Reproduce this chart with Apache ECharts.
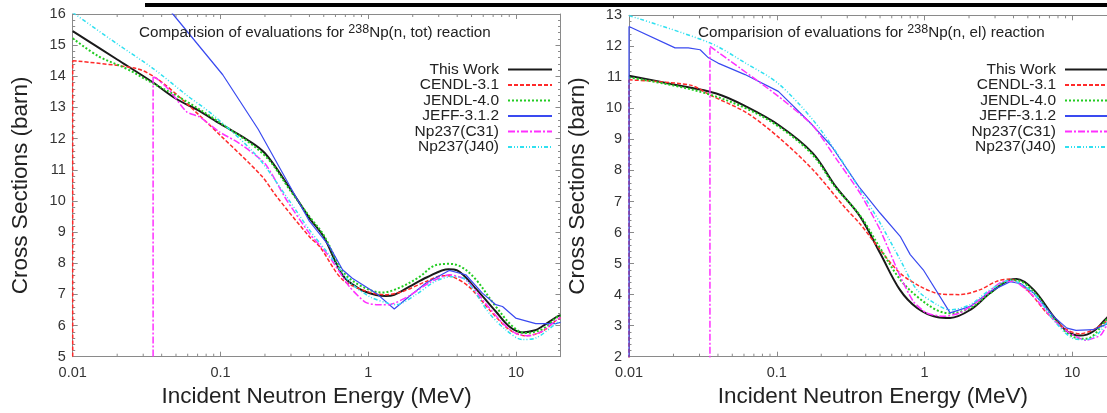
<!DOCTYPE html>
<html>
<head>
<meta charset="utf-8">
<title>238Np evaluations</title>
<script src="https://cdn.jsdelivr.net/npm/echarts@6/dist/echarts.min.js"></script>
<style>
html,body{margin:0;padding:0;background:#fff;}
#chart{width:1107px;height:413px;}
</style>
</head>
<body>
<div id="chart"></div>
<script>
// 数据：能量 (MeV) / 截面 (barn)
const seriesNames = ['This Work', 'CENDL-3.1', 'JENDL-4.0', 'JEFF-3.1.2', 'Np237(C31)', 'Np237(J40)'];

const xRange = [0.01, 20];
const xTickValues = [0.01, 0.1, 1, 10];
const xTickLabels = ['0.01', '0.1', '1', '10'];
const logMinorTicks = [0.02,0.03,0.04,0.05,0.06,0.07,0.08,0.09,0.2,0.3,0.4,0.5,0.6,0.7,0.8,0.9,2,3,4,5,6,7,8,9];
const totRange = [5, 16];
const elRange = [2, 13];

// (n, tot)
const thisWorkTot = [[0.01,15.45],[0.02,14.54],[0.035,13.8],[0.05,13.28],[0.07,12.92],[0.1,12.47],[0.15,11.98],[0.2,11.53],[0.3,10.35],[0.4,9.45],[0.5,8.85],[0.67,7.62],[0.87,7.18],[1.13,6.98],[1.32,6.95],[1.5,6.99],[1.9,7.25],[2.5,7.55],[3.5,7.81],[4.0,7.77],[5.3,7.2],[7.3,6.45],[9.0,5.97],[11.0,5.78],[13.5,5.85],[15.0,5.97],[19,6.29],[20,6.33]];
const cendlTot = [[0.01,0],[0.01,14.5],[0.027,14.25],[0.037,13.93],[0.055,13.26],[0.1,12.1],[0.19,10.8],[0.24,10.14],[0.4,8.85],[0.47,8.53],[0.67,7.47],[1.0,7.08],[1.3,6.99],[1.7,7.09],[2.45,7.41],[3.2,7.6],[3.7,7.57],[4.8,7.25],[6.6,6.51],[9,5.87],[11.6,5.67],[15,5.81],[19,6.19],[20,6.25]];
const jendlTot = [[0.01,15.22],[0.015,14.64],[0.023,14.25],[0.035,13.77],[0.053,13.32],[0.1,12.5],[0.2,11.45],[0.3,10.3],[0.4,9.5],[0.5,8.9],[0.67,7.75],[0.87,7.3],[1.24,7.06],[1.6,7.2],[2.2,7.55],[2.8,7.92],[3.5,7.98],[4.2,7.9],[5.3,7.5],[7.3,6.61],[9.5,5.97],[11.5,5.76],[15,5.88],[19,6.28],[20,6.32]];
const jeffTot = [[0.01,20.0],[0.0476,16.0],[0.1036,14.05],[0.18,12.3],[0.4,9.35],[0.545,8.55],[0.67,7.79],[0.78,7.52],[1.13,7.04],[1.5,6.53],[1.89,6.93],[2.45,7.36],[3.53,7.77],[4.57,7.63],[5.92,7.04],[7.3,6.67],[8.1,6.61],[9.95,6.24],[13.6,6.06],[18.5,6.06],[20,6.1]];
const c31Tot = [[0.035,0],[0.035,13.98],[0.037,13.93],[0.045,13.56],[0.059,12.86],[0.072,12.7],[0.098,12.22],[0.134,11.85],[0.2,11.2],[0.28,10.03],[0.4,8.96],[0.545,8.21],[0.745,7.25],[0.96,6.74],[1.13,6.67],[1.38,6.67],[1.89,6.95],[2.6,7.38],[3.53,7.63],[4.58,7.47],[6.2,6.72],[8.1,6.08],[10,5.74],[12.2,5.67],[15,5.81],[18.9,6.19],[20,6.25]];
const j40Tot = [[0.01,16.05],[0.02,15.04],[0.035,14.25],[0.06,13.37],[0.089,12.76],[0.174,11.47],[0.29,10.03],[0.4,9.07],[0.545,8.27],[0.745,7.41],[1.02,6.93],[1.39,6.7],[1.54,6.67],[2.1,6.99],[2.87,7.43],[3.71,7.57],[4.57,7.47],[6.57,6.4],[8.5,5.87],[11,5.55],[13.6,5.6],[18.9,6.08],[20,6.15]];

// (n, el)
const thisWorkEl = [[0.01,11.05],[0.02,10.77],[0.039,10.48],[0.062,10.06],[0.104,9.45],[0.175,8.56],[0.25,7.49],[0.366,6.52],[0.5,5.34],[0.68,4.16],[0.89,3.57],[1.21,3.28],[1.49,3.25],[2.04,3.51],[2.78,4.05],[3.8,4.48],[4.2,4.5],[5.46,4.16],[7.46,3.3],[9.2,2.82],[11.3,2.68],[13.9,2.82],[17.1,3.25],[20,3.5]];
const cendlEl = [[0.01,0],[0.01,10.92],[0.026,10.75],[0.035,10.44],[0.063,9.85],[0.104,9.05],[0.175,8.03],[0.29,6.8],[0.366,6.28],[0.5,5.45],[0.68,4.7],[0.93,4.27],[1.28,4.02],[1.74,4.0],[2.38,4.16],[3.09,4.43],[3.8,4.5],[4.93,4.16],[6.73,3.41],[9.19,2.87],[11.3,2.74],[13.9,2.87],[17.1,3.14],[20,3.3]];
const jendlEl = [[0.01,11.0],[0.02,10.74],[0.035,10.45],[0.062,10.0],[0.104,9.4],[0.175,8.5],[0.25,7.45],[0.366,6.55],[0.5,5.5],[0.68,4.5],[0.89,3.94],[1.21,3.5],[1.49,3.4],[2.04,3.57],[2.78,4.05],[3.8,4.46],[4.2,4.46],[5.46,4.1],[7.46,3.25],[10,2.65],[12.4,2.58],[14,2.7],[17.1,3.2],[20,3.45]];
const jeffEl = [[0.01,0],[0.01,12.64],[0.0205,11.95],[0.0252,11.95],[0.0303,11.89],[0.0345,11.63],[0.04,11.46],[0.061,11.09],[0.1025,10.55],[0.173,9.48],[0.235,8.78],[0.358,7.49],[0.5,6.63],[0.684,5.88],[0.8,5.29],[0.98,4.8],[1.49,3.41],[2.04,3.62],[2.78,4.1],[3.8,4.42],[4.5,4.35],[5.46,4.05],[7.46,3.3],[9.19,2.92],[10.6,2.85],[13.9,2.87],[17.1,3.05],[20,3.2]];
const c31El = [[0.0353,0],[0.0353,12.0],[0.0564,11.3],[0.1025,10.39],[0.175,9.45],[0.255,8.35],[0.366,7.27],[0.5,6.09],[0.684,4.59],[0.84,3.78],[1.03,3.41],[1.34,3.3],[1.74,3.41],[2.38,3.84],[3.43,4.43],[4.0,4.43],[5.46,3.94],[7.46,3.19],[9.6,2.76],[12.4,2.53],[15.6,2.7],[17.1,3.0],[20,3.3]];
const j40El = [[0.01,12.99],[0.0353,12.11],[0.061,11.47],[0.1025,10.8],[0.175,9.64],[0.255,8.56],[0.366,7.38],[0.5,6.31],[0.684,5.13],[0.887,4.16],[1.21,3.68],[1.49,3.51],[2.04,3.68],[2.78,4.16],[3.8,4.46],[5.46,4.05],[7.46,3.19],[10,2.6],[12.4,2.55],[15,2.75],[17.1,3.09],[20,3.3]];

const FONT = '"Liberation Sans", Arial, sans-serif';
const AXIS_GRAY = '#8a8a8a';

// 每条曲线的线型
const styles = [
  { color: '#1a1a1a', width: 2, type: 'solid', smooth: 0.35 },
  { color: '#ff2a2a', width: 1.5, type: [4, 2], smooth: 0.3 },
  { color: '#22cc22', width: 2, type: [2, 2], smooth: 0.35 },
  { color: '#3a4af0', width: 1.2, type: 'solid', smooth: 0 },
  { color: '#ff30ff', width: 1.5, type: [7, 2, 2, 2], smooth: 0.2 },
  { color: '#30e0f0', width: 1.5, type: [4, 2, 1, 2, 1, 2], smooth: 0.3 }
];

function fmtX(v) {
  for (let i = 0; i < xTickValues.length; i++) {
    if (Math.abs(Math.log10(v) - Math.log10(xTickValues[i])) < 1e-6) return xTickLabels[i];
  }
  return '';
}

function xAxes(gridIndex) {
  const base = {
    type: 'log', logBase: 10, min: xRange[0], max: xRange[1], gridIndex,
    axisLine: { show: true, onZero: false, lineStyle: { color: AXIS_GRAY } },
    axisTick: { inside: true, length: 5, lineStyle: { color: AXIS_GRAY } },
    splitLine: { show: false }, minorSplitLine: { show: false }
  };
  return [
    Object.assign({}, base, {
      position: 'bottom',
      name: 'Incident Neutron Energy (MeV)', nameLocation: 'middle', nameGap: 29,
      nameTextStyle: { fontSize: 22.5, color: '#222', fontFamily: FONT },
      axisLabel: { color: '#333', fontSize: 14.5, margin: 9, fontFamily: FONT, showMaxLabel: false, formatter: fmtX }
    }),
    Object.assign({}, base, { position: 'top', axisLabel: { show: false } })
  ];
}

function yAxes(gridIndex, range) {
  const base = {
    type: 'value', min: range[0], max: range[1], interval: 1, gridIndex,
    axisLine: { show: true, onZero: false, lineStyle: { color: AXIS_GRAY } },
    axisTick: { show: true, inside: true, length: 5, lineStyle: { color: AXIS_GRAY } },
    minorTick: { show: true, splitNumber: 5, length: 2.5, lineStyle: { color: AXIS_GRAY } },
    splitLine: { show: false }, minorSplitLine: { show: false }
  };
  return [
    Object.assign({}, base, {
      position: 'left',
      name: 'Cross Sections (barn)', nameLocation: 'middle', nameGap: 40,
      nameTextStyle: { fontSize: 22.5, color: '#222', fontFamily: FONT },
      axisLabel: { color: '#333', fontSize: 14.5, margin: 7, fontFamily: FONT }
    }),
    Object.assign({}, base, { position: 'right', axisLabel: { show: false } })
  ];
}

// 一条曲线 -> 折线系列；起点处的竖直阈值线单独画，避免平滑时过冲
function curveSeries(name, data, st, xi, yi) {
  const lineStyle = { color: st.color, width: st.width, type: st.type };
  const common = { name, type: 'line', xAxisIndex: xi, yAxisIndex: yi, symbol: 'none', showSymbol: false,
    lineStyle, itemStyle: { color: st.color }, silent: true, clip: true };
  const out = [];
  let pts = data;
  if (data.length > 1 && data[0][0] === data[1][0]) {
    out.push(Object.assign({}, common, { data: data.slice(0, 2), smooth: false }));
    pts = data.slice(1);
  }
  out.push(Object.assign({}, common, { data: pts, smooth: st.smooth }));
  return out;
}

// 对数轴的次刻度 (2..9)，上下两条边
function minorTickSeries(xi, yi, range) {
  return {
    type: 'custom', xAxisIndex: xi, yAxisIndex: yi, silent: true, clip: false, z: 5,
    data: logMinorTicks.map(e => [e, range[0]]),
    renderItem: function (params, api) {
      const e = api.value(0);
      const p0 = api.coord([e, range[0]]);
      const p1 = api.coord([e, range[1]]);
      const s = { stroke: AXIS_GRAY, lineWidth: 1 };
      return {
        type: 'group',
        children: [
          { type: 'line', shape: { x1: p0[0], y1: p0[1], x2: p0[0], y2: p0[1] - 3 }, style: s },
          { type: 'line', shape: { x1: p1[0], y1: p1[1], x2: p1[0], y2: p1[1] + 3 }, style: s }
        ]
      };
    }
  };
}

function legendFor(left) {
  return {
    data: seriesNames, orient: 'vertical', left, top: 61.5, align: 'right',
    itemWidth: 44, itemHeight: 12, itemGap: -0.5, padding: 0, selectedMode: false,
    itemStyle: { color: 'rgba(0,0,0,0)', borderWidth: 0, opacity: 0 },
    formatter: n => '{a|' + n + '}',
    textStyle: { rich: { a: { width: 90, align: 'right', fontSize: 15.5, lineHeight: 14, color: '#222', fontFamily: FONT, padding: [0, 4, 0, 0] } } }
  };
}

function titleFor(left, reaction) {
  return {
    text: '{a|Comparision of evaluations for }{s|238}{a|Np(n, ' + reaction + ') reaction}',
    left, top: 23, padding: 0,
    textStyle: { rich: {
      a: { fontSize: 15.2, lineHeight: 20, color: '#222', fontFamily: FONT, fontWeight: 'normal' },
      s: { fontSize: 12.5, lineHeight: 8, verticalAlign: 'top', color: '#222', fontFamily: FONT, fontWeight: 'normal' }
    } }
  };
}

const totData = [thisWorkTot, cendlTot, jendlTot, jeffTot, c31Tot, j40Tot];
const elData = [thisWorkEl, cendlEl, jendlEl, jeffEl, c31El, j40El];

let series = [minorTickSeries(0, 0, totRange), minorTickSeries(2, 2, elRange)];
seriesNames.forEach((n, i) => { series = series.concat(curveSeries(n, totData[i], styles[i], 0, 0)); });
seriesNames.forEach((n, i) => { series = series.concat(curveSeries(n, elData[i], styles[i], 2, 2)); });

const chart = echarts.init(document.getElementById('chart'), null, { renderer: 'canvas' });
chart.setOption({
  animation: false,
  backgroundColor: '#fff',
  textStyle: { fontFamily: FONT },
  title: [titleFor(139, 'tot'), titleFor(698, 'el')],
  legend: [legendFor(409), legendFor(966)],
  grid: [
    { left: 72.7, top: 14, width: 487.8, height: 342.7, containLabel: false, outerBoundsMode: 'none' },
    { left: 629, top: 15.3, width: 487.8, height: 341.4, containLabel: false, outerBoundsMode: 'none' }
  ],
  xAxis: xAxes(0).concat(xAxes(1)),
  yAxis: yAxes(0, totRange).concat(yAxes(1, elRange)),
  graphic: [
    { type: 'rect', shape: { x: 145, y: 3, width: 962, height: 4 }, style: { fill: '#000' }, silent: true }
  ],
  series
});
</script>
</body>
</html>
